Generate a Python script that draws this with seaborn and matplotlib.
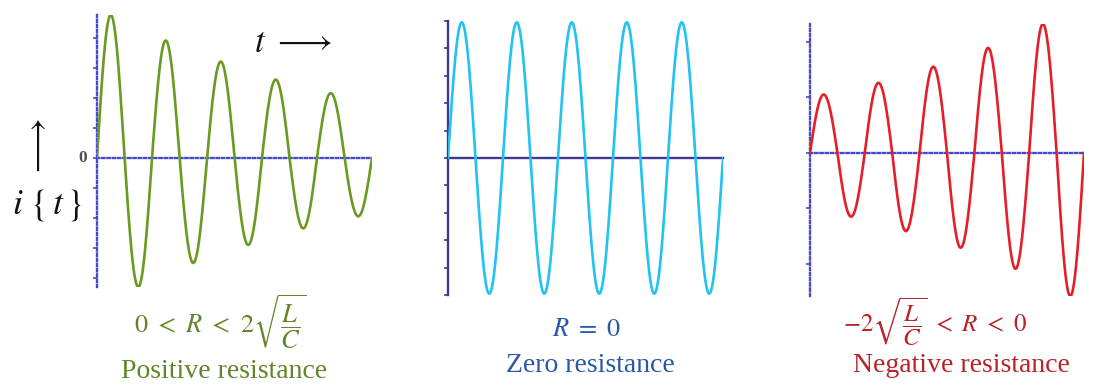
import numpy as np
import pandas as pd
import matplotlib
matplotlib.use("Agg")
import matplotlib.pyplot as plt
import seaborn as sns

# Peak (positive lobe) and trough (negative lobe) heights of i(t), one per half cycle
damped_peaks = [4.75, 3.9, 3.2, 2.6, 2.15]
damped_troughs = [4.3, 3.5, 2.9, 2.35, 1.95]
steady_peaks = [4.95, 4.95, 4.95, 4.95, 4.95]
steady_troughs = [4.95, 4.95, 4.95, 4.95, 4.95]
growing_peaks = [1.05, 1.26, 1.55, 1.89, 2.32]
growing_troughs = [1.15, 1.41, 1.71, 2.09, 2.58]

titles = ["Positive resistance", "Zero resistance", "Negative resistance"]
conditions = [r"$0\ <\ R\ <\ 2\sqrt{\dfrac{L}{C}}$",
              r"$R\ =\ 0$",
              r"$-2\sqrt{\dfrac{L}{C}}\ <\ R\ <\ 0$"]
curve_colors = ["#6b9a22", "#22c2f2", "#e3202a"]
text_colors = ["#62842a", "#2a58a6", "#b82228"]
axis_colors = ["#4848cc", "#3a3a92", "#4848cc"]
axis_styles = [(0, (1, 1.2)), "-", (0, (1, 1.2))]
ylims = [(-4.3, 4.75), (-5.0, 5.0), (-2.58, 2.32)]
yticks = [range(-4, 5), range(-5, 6), range(-2, 3)]


def waveform(peaks, troughs, n=120):
    """Build i(t) lobe by lobe: each half cycle is a sine arch of the given height."""
    ts, ys = [], []
    lobes = [h for pair in zip(peaks, troughs) for h in pair]
    for k, h in enumerate(lobes):
        t = np.linspace(k * 0.5, (k + 1) * 0.5, n)
        ts.append(t)
        ys.append(h * np.sin(2 * np.pi * t))
    return pd.DataFrame({"t": np.concatenate(ts), "i": np.concatenate(ys)})


sns.set_style("white")
plt.rcParams["font.family"] = ["Liberation Serif", "DejaVu Serif"]
plt.rcParams["mathtext.fontset"] = "stix"

W, H = 1095, 390
fig = plt.figure(figsize=(W / 100, H / 100), dpi=100)

# axes boxes in pixels: left, top, right, bottom
boxes = [(97, 15, 372, 287), (448, 21, 723, 295), (810, 24, 1084, 296)]
series = [(damped_peaks, damped_troughs),
          (steady_peaks, steady_troughs),
          (growing_peaks, growing_troughs)]

axes = []
for k, (box, (pk, tr)) in enumerate(zip(boxes, series)):
    l, t, r, b = box
    ax = fig.add_axes([l / W, 1 - b / H, (r - l) / W, (b - t) / H])
    df = waveform(pk, tr)
    sns.lineplot(data=df, x="t", y="i", ax=ax, color=curve_colors[k],
                 linewidth=1.9, sort=False, zorder=3)
    ax.set_xlim(0, 5)
    ax.set_ylim(*ylims[k])
    ax.set_xlabel("")
    ax.set_ylabel("")
    for s in ["top", "right"]:
        ax.spines[s].set_visible(False)
    ax.spines["bottom"].set_position(("data", 0))
    for s in ["left", "bottom"]:
        ax.spines[s].set_color(axis_colors[k])
        ax.spines[s].set_linewidth(1.7)
        ax.spines[s].set_linestyle(axis_styles[k])
        ax.spines[s].set_zorder(2)
    ax.set_xticks([])
    ax.set_yticks(list(yticks[k]))
    ax.set_yticklabels([])
    ax.tick_params(axis="y", direction="out", length=3, width=1.2,
                   color=axis_colors[k], left=True)
    ax.patch.set_alpha(0)
    axes.append(ax)

# zero label on the first panel
axes[0].text(-0.035, 0, "0", transform=axes[0].get_yaxis_transform(),
             ha="right", va="center", fontsize=12.5, fontweight="bold",
             color="#505050")


def px(x, y):
    return x / W, 1 - y / H


# time arrow and current label
fig.text(*px(293, 44), r"$t\ \longrightarrow$", fontsize=25,
         ha="center", va="center", color="#111111")
fig.text(*px(38, 148), r"$\longrightarrow$", fontsize=25, rotation=90,
         ha="center", va="center", color="#111111")
fig.text(*px(47, 205), r"$i\ \{\,t\,\}$", fontsize=26,
         ha="center", va="center", color="#111111")

cond_pos = [(220, 322), (587, 330), (935, 322)]
cond_size = [19, 19, 18]
title_pos = [(224, 372), (590, 366), (961, 366)]
for k in range(3):
    fig.text(*px(*cond_pos[k]), conditions[k], fontsize=cond_size[k],
             ha="center", va="center", color=text_colors[k])
    fig.text(*px(*title_pos[k]), titles[k], fontsize=20,
             ha="center", va="center", color=text_colors[k])

fig.savefig("out.png", dpi=100)
